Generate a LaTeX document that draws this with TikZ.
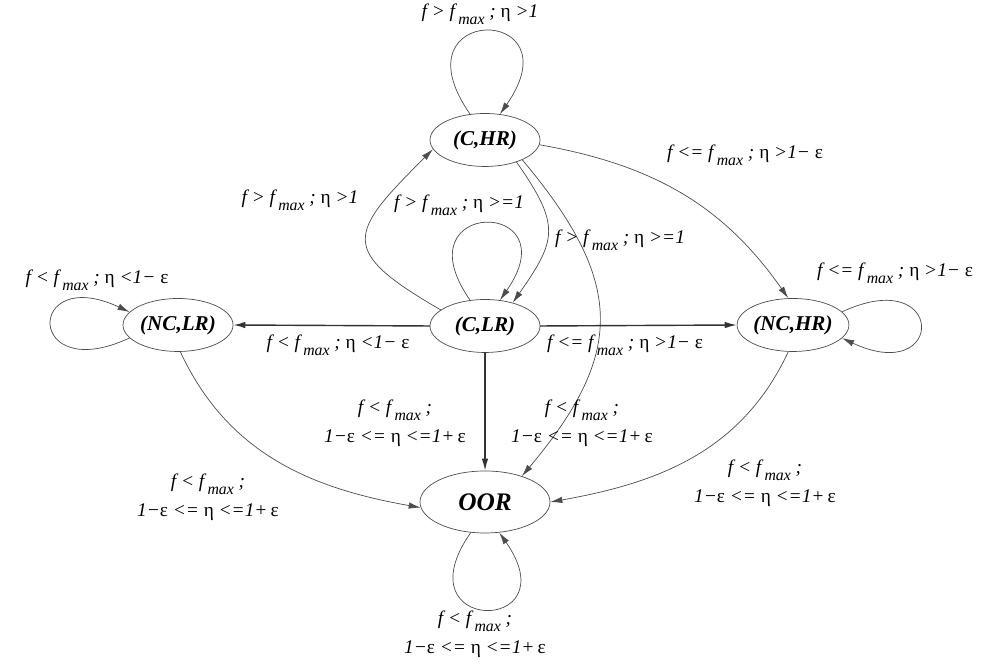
\documentclass[tikz,border=0pt]{standalone}
\usepackage{fontspec}
\setmainfont{Liberation Serif}
\usetikzlibrary{arrows.meta, shapes.geometric}

\newcommand{\fmx}{f\,\raisebox{-0.8ex}{\small max}}
\newcommand{\teta}{{\upshape η}}
\newcommand{\teps}{{\upshape ε}}

\begin{document}
\begin{tikzpicture}[line cap=round, >={Latex[length=2.4mm,width=1.3mm]},
    state/.style={ellipse, draw=black!70, thin, minimum width=2.2cm, minimum height=1.06cm, inner sep=0pt, font=\large\bfseries\itshape},
    edge/.style={->, black!70, thin},
    bold edge/.style={->, black!80, thick},
    lbl/.style={font=\fontsize{11}{13.5}\selectfont\itshape, align=center, inner sep=1pt}]
    \useasboundingbox (0,0) rectangle (19.62,13.32);
    % states
    \node[state] (CHR) at (9.7,10.52) {(C,HR)};
    \node[state] (CLR) at (9.7,6.8) {(C,LR)};
    \node[state] (NCLR) at (3.56,6.82) {(NC,LR)};
    \node[state] (NCHR) at (15.86,6.82) {(NC,HR)};
    \node[state, minimum width=2.6cm, minimum height=1.24cm, font=\Large\bfseries\itshape] (OOR) at (9.7,3.28) {OOR};
    % self loops
    \draw[edge] (CHR.120) .. controls +(125:2.7) and +(55:2.7) .. (CHR.60);
    \draw[edge] (CLR.120) .. controls +(125:2.5) and +(55:2.5) .. (CLR.60);
    \draw[edge] (NCLR.195) .. controls +(205:2.3) and +(155:2.3) .. (NCLR.165);
    \draw[edge] (NCHR.15) .. controls +(25:2.3) and +(-25:2.3) .. (NCHR.-15);
    \draw[edge] (OOR.245) .. controls +(235:2.5) and +(305:2.5) .. (OOR.295);
    % transitions
    \draw[edge] (CLR.160) to[out=150, in=225, looseness=1.9] (CHR.190);
    \draw[edge] (CHR.-35) to[out=-55, in=55, looseness=1.4] (CLR.40);
    \draw[edge] (CHR.-28) to[out=-50, in=50, looseness=1.3] (OOR.35);
    \draw[edge] (CHR.-5) to[out=-10, in=125] (NCHR.100);
    \draw[bold edge] (CLR.west) -- (NCLR.east);
    \draw[bold edge] (CLR.east) -- (NCHR.west);
    \draw[bold edge] (CLR.south) -- (OOR.north);
    \draw[edge] (NCLR.-85) to[out=-65, in=170] (OOR.185);
    \draw[edge] (NCHR.-100) to[out=-115, in=10] (OOR.east);
    % labels
    \node[lbl] (lCHR) at (9.6,13.04) {f > \fmx\ ; \teta\ >1};
    \node[lbl] (lCLRCHR) at (6.0,9.32) {f > \fmx\ ; \teta\ >1};
    \node[lbl] (lCLR) at (9.18,9.22) {f > \fmx\ ; \teta\ >=1};
    \node[lbl] (lCHRCLR) at (12.4,8.52) {f > \fmx\ ; \teta\ >=1};
    \node[lbl] (lCHRNCHR) at (14.9,10.22) {f <= \fmx\ ; \teta\ >1− \teps};
    \node[lbl] (lNCHR) at (17.9,7.86) {f <= \fmx\ ; \teta\ >1− \teps};
    \node[lbl] (lNCLR) at (1.94,7.72) {f < \fmx\ ; \teta\ <1− \teps};
    \node[lbl] (lCLRNCLR) at (6.76,6.42) {f < \fmx\ ; \teta\ <1− \teps};
    \node[lbl] (lCLRNCHR) at (12.5,6.42) {f <= \fmx\ ; \teta\ >1− \teps};
    \node[lbl] (lCLROOR) at (7.9,4.86) {f < \fmx\ ;\\[3pt] 1−\teps\ <= \teta\ <=1+\,\teps};
    \node[lbl] (lCHROOR) at (11.64,4.86) {f < \fmx\ ;\\[3pt] 1−\teps\ <= \teta\ <=1+\,\teps};
    \node[lbl] (lNCLROOR) at (4.16,3.38) {f < \fmx\ ;\\[3pt] 1−\teps\ <= \teta\ <=1+\,\teps};
    \node[lbl] (lNCHROOR) at (15.3,3.66) {f < \fmx\ ;\\[3pt] 1−\teps\ <= \teta\ <=1+\,\teps};
    \node[lbl] (lOOR) at (9.5,0.64) {f < \fmx\ ;\\[3pt] 1−\teps\ <= \teta\ <=1+\,\teps};
\end{tikzpicture}
\end{document}
